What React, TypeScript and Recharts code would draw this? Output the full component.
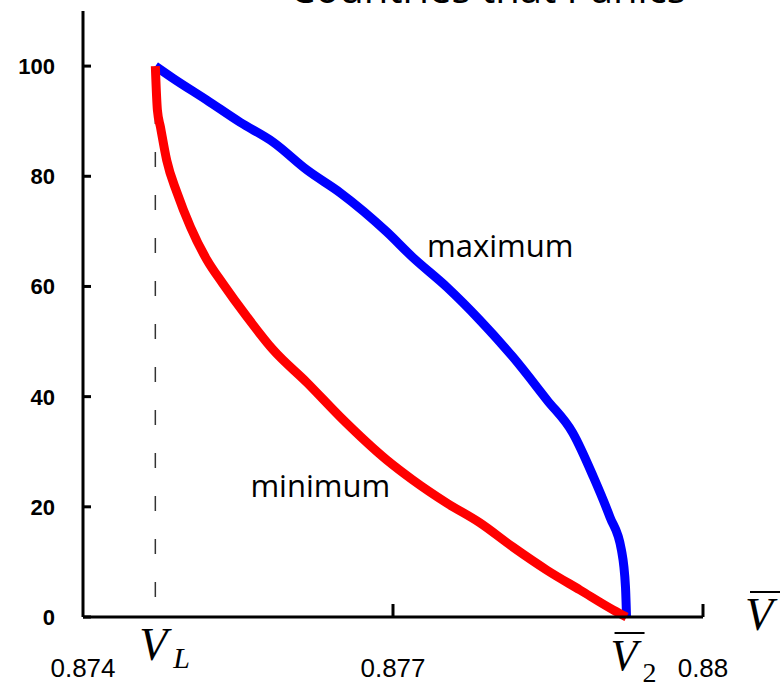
import {
  ComposedChart,
  Line,
  XAxis,
  YAxis,
  ReferenceLine,
  ReferenceDot,
} from "recharts";

// upper bound curve (blue)
const maxX = [0.8747, 0.87487, 0.8752, 0.87552, 0.87584, 0.87617, 0.87649, 0.87694, 0.87719, 0.87752, 0.87784, 0.87816, 0.87849, 0.87874, 0.87894, 0.8791, 0.87921, 0.87925, 0.87926];
const maxY = [100, 97.8, 93.8, 89.8, 86.2, 81.1, 77.0, 69.9, 65.3, 59.9, 53.9, 47.2, 39.4, 33.4, 25.4, 18.1, 12.2, 5.4, 0];

// lower bound curve (red)
const minX = [0.8747, 0.87472, 0.87475, 0.87481, 0.87491, 0.87504, 0.8752, 0.87535, 0.87559, 0.87584, 0.87617, 0.87649, 0.87694, 0.87719, 0.87752, 0.87784, 0.87816, 0.87849, 0.87881, 0.87913, 0.87926];
const minY = [100, 92.0, 88.9, 82.9, 77.0, 70.8, 64.8, 60.6, 54.4, 48.5, 42.5, 36.3, 28.5, 24.9, 20.7, 17.1, 12.7, 8.5, 4.9, 1.3, 0];

const V_L = 0.8747;
const V_2 = 0.87926;
const xTicks = [0.874, V_L, 0.877, V_2, 0.88];
const yTicks = [0, 20, 40, 60, 80, 100];

const maxData = maxX.map((x, i) => ({ x, y: maxY[i] }));
const minData = minX.map((x, i) => ({ x, y: minY[i] }));

const narrow = "'Liberation Sans Narrow', 'Liberation Sans', Arial, sans-serif";
const serif = "'Liberation Serif', 'Times New Roman', serif";
const sans = "'Open Sans', 'Noto Sans', sans-serif";

function XTick(props: any) {
  const { x, y, payload } = props;
  const v = payload.value;
  if (v === V_L) {
    return (
      <g>
        <text x={x - 16} y={y + 43} fontFamily={serif} fontStyle="italic" fontSize={46} fill="#000">V</text>
        <text x={x + 18} y={y + 51} fontFamily={serif} fontStyle="italic" fontSize={30} fill="#000">L</text>
      </g>
    );
  }
  if (v === V_2) {
    return (
      <g>
        <line x1={x - 12} x2={x + 18} y1={y + 16} y2={y + 16} stroke="#000" strokeWidth={2} />
        <text x={x - 16} y={y + 53} fontFamily={serif} fontStyle="italic" fontSize={44} fill="#000">V</text>
        <text x={x + 16} y={y + 65} fontFamily={serif} fontSize={28} fill="#000">2</text>
      </g>
    );
  }
  return (
    <g>
      {v !== 0.874 && <line x1={x} x2={x} y1={y} y2={y - 13} stroke="#000" strokeWidth={3} />}
      <text x={x} y={y + 60} textAnchor="middle" fontFamily={narrow} fontSize={26} fill="#000">{String(v)}</text>
    </g>
  );
}

function YTick(props: any) {
  const { x, y, payload } = props;
  return (
    <g>
      <line x1={x} x2={x + 8} y1={y} y2={y} stroke="#000" strokeWidth={3} />
      <text x={x - 28} y={y + 8} textAnchor="end" fontFamily={narrow} fontWeight="bold" fontSize={22} fill="#000">{payload.value}</text>
    </g>
  );
}

function VBarLabel(props: any) {
  const { viewBox } = props;
  const x = viewBox.x + viewBox.width + 42;
  const y = viewBox.y;
  return (
    <g>
      <line x1={x + 5} x2={x + 35} y1={y - 25} y2={y - 25} stroke="#000" strokeWidth={2} />
      <text x={x} y={y + 13} fontFamily={serif} fontStyle="italic" fontSize={46} fill="#000">V</text>
    </g>
  );
}

const textAt = (value: string) => (props: any) => (
  <text x={props.viewBox.x} y={props.viewBox.y} fontFamily={sans} fontSize={31} fill="#000">{value}</text>
);

export default function App() {
  return (
    <div style={{ position: "absolute", left: 0, top: 0, width: 781, height: 687, background: "#fff", overflow: "hidden" }}>
      <div style={{ position: "absolute", left: 290, top: -37, fontFamily: sans, fontSize: 40, whiteSpace: "nowrap", lineHeight: "50px" }}>
        Countries that Panics
      </div>
      <ComposedChart width={781} height={687} margin={{ top: 11, right: 78, bottom: 0, left: 0 }}>
        <XAxis
          type="number"
          dataKey="x"
          domain={[0.874, 0.88]}
          ticks={xTicks}
          interval={0}
          height={70}
          tickSize={0}
          tickMargin={0}
          tick={<XTick />}
          axisLine={{ stroke: "#000", strokeWidth: 3 }}
          tickLine={false}
          allowDataOverflow
          label={<VBarLabel />}
        />
        <YAxis
          type="number"
          dataKey="y"
          domain={[0, 110]}
          ticks={yTicks}
          interval={0}
          width={83}
          tickSize={0}
          tickMargin={0}
          tick={<YTick />}
          axisLine={{ stroke: "#000", strokeWidth: 3 }}
          tickLine={false}
        />
        <ReferenceLine
          segment={[{ x: V_L, y: 100 }, { x: V_L, y: 0 }]}
          stroke="#333"
          strokeWidth={1.5}
          strokeDasharray="15 28"
        />
        <Line data={maxData} dataKey="y" type="monotone" stroke="#0000ff" strokeWidth={9} dot={false} isAnimationActive={false} />
        <Line data={minData} dataKey="y" type="monotone" stroke="#ff0000" strokeWidth={9} dot={false} isAnimationActive={false} />
        <ReferenceDot x={0.87733} y={65.3} r={0} fill="none" stroke="none" label={textAt("maximum")} />
        <ReferenceDot x={0.87562} y={21.8} r={0} fill="none" stroke="none" label={textAt("minimum")} />
      </ComposedChart>
    </div>
  );
}
